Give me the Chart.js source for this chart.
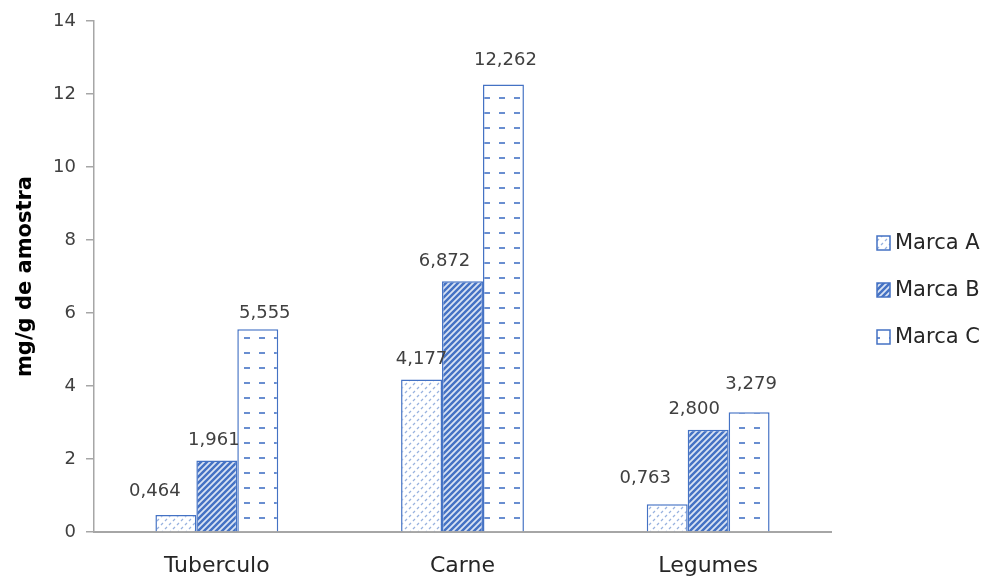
<!DOCTYPE html>
<html>
<head>
<meta charset="utf-8">
<script src="https://cdn.jsdelivr.net/npm/chart.js@4/dist/chart.umd.min.js"></script>
<style>
  html,body{margin:0;padding:0;background:#fff;}
  #wrap{width:989px;height:581px;}
</style>
</head>
<body>
<div id="wrap"><canvas id="chart" width="989" height="581"></canvas></div>
<script>
const categorias = ["Tuberculo", "Carne", "Legumes"];
const marcas = ["Marca A", "Marca B", "Marca C"];
const marcaA = [0.464, 4.177, 0.763];
const marcaB = [1.961, 6.872, 2.800];
const marcaC = [5.555, 12.262, 3.279];
const yTicks = [0, 2, 4, 6, 8, 10, 12, 14];

const AZUL = "#4472C4";
const FONTE = "'DejaVu Sans', sans-serif";

// deslocamento dos rótulos (como foram arrastados no Excel), por série
const ajusteRotulo = [
  [[-21, -4], [0, 0], [-22, -6]],
  [[-3, 0], [-18, 0], [-14, 0]],
  [[7, 4], [2, -4], [2, -8]]
];

/* ---------- padrões de preenchimento ---------- */

function padraoA(){
  const c = document.createElement("canvas");
  c.width = 8; c.height = 8;
  const g = c.getContext("2d");
  g.fillStyle = "#fff"; g.fillRect(0,0,8,8);
  g.strokeStyle = "rgba(68,114,196,0.55)";
  g.lineWidth = 1.3;
  g.beginPath();
  g.moveTo(1,5); g.lineTo(3,3);
  g.moveTo(5,1); g.lineTo(7,-1);
  g.moveTo(5,9); g.lineTo(7,7);
  g.stroke();
  return g.createPattern(c, "repeat");
}

function padraoB(){
  const c = document.createElement("canvas");
  c.width = 6; c.height = 6;
  const g = c.getContext("2d");
  g.fillStyle = AZUL; g.fillRect(0,0,6,6);
  g.strokeStyle = "rgba(255,255,255,0.8)";
  g.lineWidth = 1.8;
  g.beginPath();
  g.moveTo(-1,7); g.lineTo(7,-1);
  g.moveTo(-4,4); g.lineTo(4,-4);
  g.moveTo(2,10); g.lineTo(10,2);
  g.stroke();
  return g.createPattern(c, "repeat");
}

function padraoC(){
  const c = document.createElement("canvas");
  c.width = 15; c.height = 15;
  const g = c.getContext("2d");
  g.fillStyle = "#fff"; g.fillRect(0,0,15,15);
  g.fillStyle = "rgba(68,114,196,0.8)";
  g.fillRect(4,7,6,2);
  return g.createPattern(c, "repeat");
}

/* ---------- rótulos de dados ---------- */

const rotulos = {
  id:"rotulos",
  afterDatasetsDraw(chart){
    const ctx = chart.ctx;
    ctx.save();
    ctx.font = "18px " + FONTE;
    ctx.fillStyle = "#404040";
    ctx.textAlign = "center";
    ctx.textBaseline = "middle";
    chart.data.datasets.forEach((ds, i)=>{
      chart.getDatasetMeta(i).data.forEach((bar, j)=>{
        const txt = ds.data[j].toFixed(3).replace(".", ",");
        const [dx, dy] = ajusteRotulo[i][j];
        ctx.fillText(txt, bar.x + dx, bar.y - 20 + dy);
      });
    });
    ctx.restore();
  }
};

/* ---------- legenda à direita ---------- */

const legenda = {
  id:"legenda",
  afterDraw(chart){
    const ctx = chart.ctx;
    ctx.save();
    ctx.font = "21px " + FONTE;
    ctx.textBaseline = "middle";
    chart.data.datasets.forEach((ds, i)=>{
      const y = 243 + i * 47;
      ctx.fillStyle = ds.backgroundColor;
      ctx.fillRect(877, y - 7, 13, 14);
      ctx.strokeStyle = AZUL;
      ctx.lineWidth = 1.5;
      ctx.strokeRect(877, y - 7, 13, 14);
      ctx.fillStyle = "#262626";
      ctx.fillText(ds.label, 895, y + 1);
    });
    ctx.restore();
  }
};

function serie(label, data, fill){
  return {
    label:label,
    data:data,
    backgroundColor:fill,
    borderColor:AZUL,
    borderWidth:1.5,
    categoryPercentage:0.5,
    barPercentage:1.0
  };
}

new Chart(document.getElementById("chart"),{
  type:"bar",
  data:{
    labels:categorias,
    datasets:[
      serie(marcas[0], marcaA, padraoA()),
      serie(marcas[1], marcaB, padraoB()),
      serie(marcas[2], marcaC, padraoC())
    ]
  },
  options:{
    responsive:false,
    animation:false,
    layout:{padding:{top:21, right:158, bottom:0, left:0}},
    plugins:{legend:{display:false}, tooltip:{enabled:false}},
    scales:{
      x:{
        grid:{display:false},
        border:{display:true, color:"#a6a6a6", width:2},
        ticks:{color:"#262626", font:{family:FONTE, size:22}, padding:13},
        afterFit(s){ s.height = 49; }
      },
      y:{
        min:0, max:14,
        afterBuildTicks(s){ s.ticks = yTicks.map(v=>({value:v})); },
        grid:{display:true, drawOnChartArea:false, tickLength:8, color:"#a6a6a6", lineWidth:1.5},
        border:{display:true, color:"#a6a6a6", width:1.5},
        ticks:{color:"#404040", font:{family:FONTE, size:18}, padding:10},
        title:{display:true, text:"mg/g de amostra", color:"#000",
               font:{family:FONTE, size:21, weight:"bold"}, padding:{top:13, bottom:0}},
        afterFit(s){ s.width = 94; }
      }
    }
  },
  plugins:[rotulos, legenda]
});
</script>
</body>
</html>
